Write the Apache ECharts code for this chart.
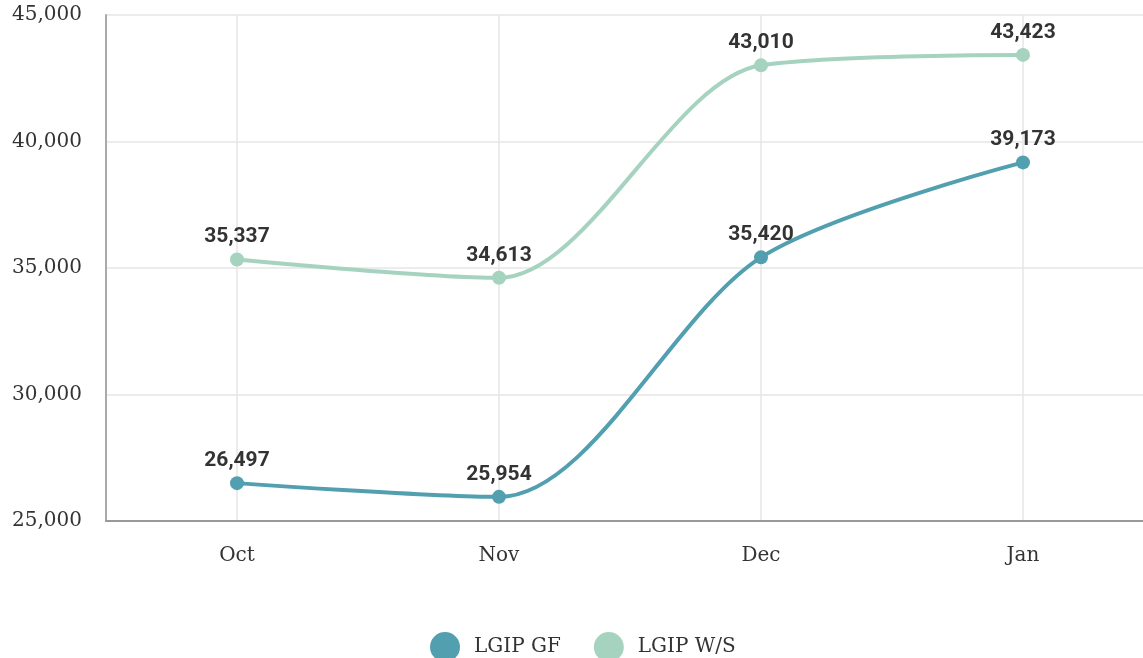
<!DOCTYPE html>
<html>
<head>
<meta charset="utf-8">
<script src="https://cdn.jsdelivr.net/npm/echarts@6/dist/echarts.min.js"></script>
<style>
  html, body { margin: 0; padding: 0; background: #fff; }
  #chart { width: 1143px; height: 658px; }
</style>
</head>
<body>
<div id="chart"></div>
<script>
var months = ['Oct', 'Nov', 'Dec', 'Jan'];
var lgipGF = [26497, 25954, 35420, 39173];
var lgipWS = [35337, 34613, 43010, 43423];
var serifFont = '"DejaVu Serif", serif';

var fmt = function (v) { return v.toLocaleString('en-US'); };

var chart = echarts.init(document.getElementById('chart'));
chart.setOption({
  animation: false,
  color: ['#529fb0', '#a6d3bf'],
  grid: { left: 106, width: 1048, top: 15, bottom: 137, outerBoundsMode: 'none', containLabel: false },
  legend: {
    top: 627,
    left: 425,
    icon: 'circle',
    itemWidth: 32,
    itemHeight: 30,
    itemGap: 33,
    textStyle: { fontFamily: serifFont, fontSize: 20, color: '#333', padding: [0, 0, 0, 8] },
    data: ['LGIP GF', 'LGIP W/S']
  },
  xAxis: {
    type: 'category',
    data: months,
    boundaryGap: true,
    axisLine: { lineStyle: { color: '#999', width: 2 } },
    axisTick: { show: false },
    splitLine: { show: false },
    axisLabel: { fontFamily: serifFont, fontSize: 20, color: '#333', margin: 25 }
  },
  yAxis: {
    type: 'value',
    min: 25000,
    max: 45000,
    interval: 5000,
    axisLine: { show: true, lineStyle: { color: '#aaa', width: 2 } },
    axisTick: { show: false },
    splitLine: { lineStyle: { color: '#e6e6e6', width: 1.5 } },
    axisLabel: { fontFamily: serifFont, fontSize: 20, color: '#333', margin: 24, formatter: fmt }
  },
  series: [
    {
      name: 'LGIP GF',
      type: 'line',
      data: lgipGF,
      smooth: 0.3,
      symbol: 'circle',
      symbolSize: 14,
      lineStyle: { width: 4 },
      label: {
        show: true, position: 'top', distance: 5,
        fontFamily: 'Roboto', fontWeight: 'bold', fontSize: 21, color: '#333',
        formatter: function (p) { return fmt(p.value); }
      },
      markLine: {
        silent: true,
        symbol: 'none',
        label: { show: false },
        lineStyle: { color: '#e6e6e6', width: 1.5, type: 'solid' },
        data: months.map(function (m) { return { xAxis: m }; }),
        z: 0
      },
      z: 3
    },
    {
      name: 'LGIP W/S',
      type: 'line',
      data: lgipWS,
      smooth: 0.3,
      symbol: 'circle',
      symbolSize: 14,
      lineStyle: { width: 4 },
      label: {
        show: true, position: 'top', distance: 5,
        fontFamily: 'Roboto', fontWeight: 'bold', fontSize: 21, color: '#333',
        formatter: function (p) { return fmt(p.value); }
      },
      z: 3
    }
  ]
});
</script>
</body>
</html>
